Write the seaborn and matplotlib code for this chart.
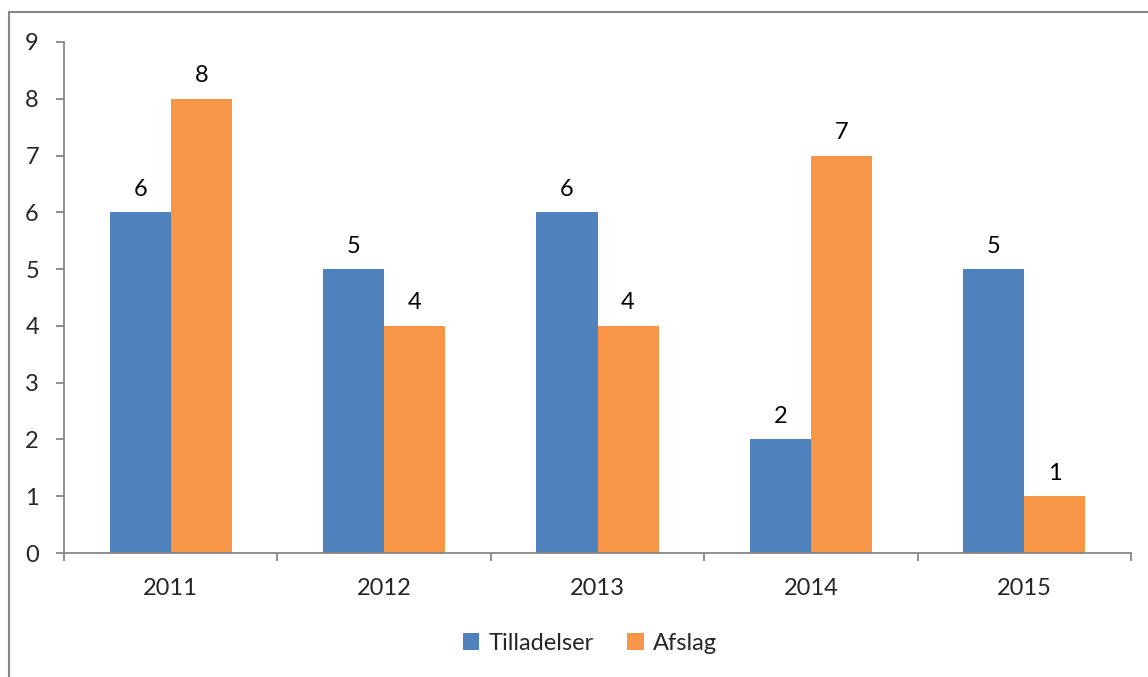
import pandas as pd
import seaborn as sns
import matplotlib.pyplot as plt
from matplotlib.patches import Rectangle

# data
years = ["2011", "2012", "2013", "2014", "2015"]
tilladelser = [6, 5, 6, 2, 5]
afslag = [8, 4, 4, 7, 1]
series = ["Tilladelser", "Afslag"]
colors = ["#4F81BD", "#F79646"]

df = pd.DataFrame({
    "year": years * 2,
    "value": tilladelser + afslag,
    "series": [series[0]] * len(years) + [series[1]] * len(years),
})

sns.set_style("white")
plt.rcParams["font.family"] = ["Lato", "DejaVu Sans"]
fs = 17

fig = plt.figure(figsize=(11.48, 6.77), dpi=100)
ax = fig.add_axes([64 / 1148, 1 - 553 / 677, (1131 - 64) / 1148, (553 - 42) / 677])

sns.barplot(data=df, x="year", y="value", hue="series", palette=colors,
            width=0.572, gap=0, saturation=1, linewidth=0, ax=ax, legend=True)

for cont in ax.containers:
    ax.bar_label(cont, padding=9, fontsize=fs, color="black")

gray = "#868686"
ax.set_xlim(-0.5, 4.5)
ax.set_ylim(0, 9)
ax.set_yticks(range(10))
ax.set_xlabel("")
ax.set_ylabel("")
sns.despine(ax=ax)
for s in ["left", "bottom"]:
    ax.spines[s].set_color(gray)
    ax.spines[s].set_linewidth(1.3)

ax.tick_params(axis="y", length=6, width=1.3, color=gray, direction="out",
               left=True, labelsize=fs, pad=12)
ax.tick_params(axis="x", which="major", length=0, labelsize=fs, pad=18)
ax.set_xticks([i - 0.5 for i in range(6)], minor=True)
ax.tick_params(axis="x", which="minor", length=6, width=1.3, color=gray,
               direction="out", bottom=True)

leg = ax.legend(loc="center", bbox_to_anchor=(0.514, 0.05),
                bbox_transform=fig.transFigure, ncol=2, frameon=False,
                fontsize=fs, handlelength=0.7, handleheight=0.7,
                handletextpad=0.4, columnspacing=1.4)

# outer chart border (runs off the right and bottom edges)
fig.patches.append(Rectangle((9 / 1148, -0.05), 1.1, 1 - 12 / 677 + 0.05,
                             transform=fig.transFigure, fill=False,
                             edgecolor="#888888", linewidth=1.5))

fig.savefig("out.png", dpi=100)
